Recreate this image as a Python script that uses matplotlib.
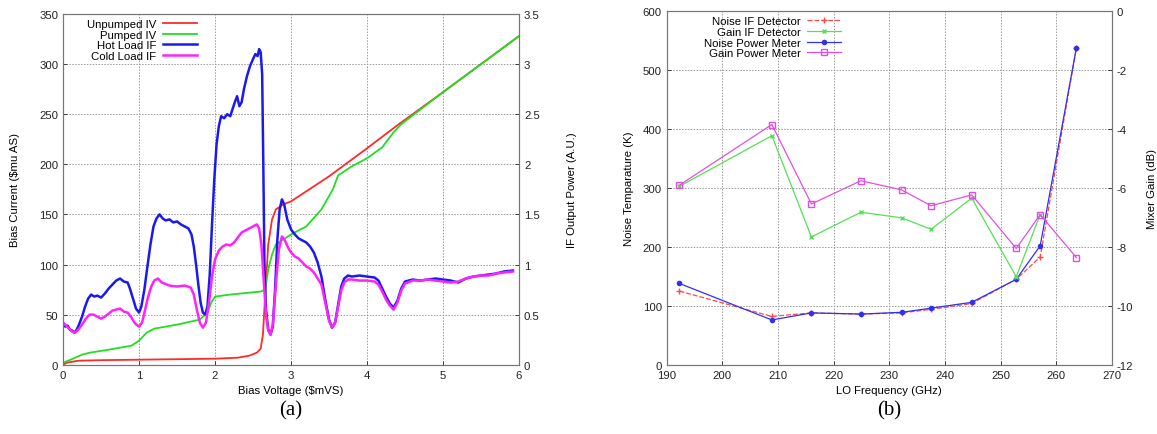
import matplotlib
matplotlib.use("Agg")
import matplotlib.pyplot as plt

plt.rcParams['font.family'] = ['Liberation Sans', 'DejaVu Sans']
plt.rcParams['axes.unicode_minus'] = False

# ---------------- Panel (a) data ----------------
iv_v = [0.00, 0.05, 0.20, 0.50, 1.00, 1.50, 2.00, 2.30, 2.45, 2.55, 2.60, 2.63, 2.66,
        2.70, 2.75, 2.80, 2.90, 3.00, 3.50, 4.00, 4.40, 5.00, 5.50, 6.00]
unpumped_i = [0, 2, 4, 4.5, 5, 5.5, 6, 7, 9, 12, 16, 30, 70,
              120, 145, 155, 160, 163, 188, 216, 239, 272, 300, 328]

pumped_v = [0.00, 0.10, 0.25, 0.35, 0.60, 0.90, 1.00, 1.10, 1.20, 1.50, 1.80, 1.90, 1.95,
            2.00, 2.20, 2.60, 2.66, 2.70, 2.75, 2.80, 3.00, 3.20, 3.40, 3.55, 3.62,
            3.80, 4.00, 4.20, 4.35, 4.45, 5.00, 5.50, 6.00]
pumped_i = [2, 5, 10, 12, 15, 19, 24, 32, 36, 40, 45, 52, 62,
            68, 70, 73, 75, 95, 110, 120, 130, 138, 155, 175, 189,
            198, 206, 217, 232, 240, 272, 300, 328]

hot_v = [0.00, 0.03, 0.06, 0.09, 0.12, 0.15, 0.18, 0.21, 0.25, 0.29, 0.33, 0.37, 0.41, 0.45,
         0.50, 0.55, 0.60, 0.65, 0.70, 0.75, 0.80, 0.85, 0.88, 0.92, 0.96, 1.00, 1.03, 1.07,
         1.11, 1.15, 1.19, 1.23, 1.27, 1.31, 1.35, 1.40, 1.45, 1.50, 1.55, 1.60, 1.65, 1.69,
         1.72, 1.75, 1.78, 1.81, 1.84, 1.87, 1.90, 1.93, 1.96, 1.99, 2.02, 2.05, 2.08, 2.12,
         2.16, 2.20, 2.23, 2.26, 2.29, 2.32, 2.35, 2.38, 2.42, 2.46, 2.50, 2.53, 2.56, 2.58,
         2.60, 2.62, 2.635, 2.65, 2.67, 2.70, 2.73, 2.76, 2.79, 2.82, 2.85, 2.88, 2.91, 2.95,
         3.00, 3.05, 3.10, 3.15, 3.20, 3.25, 3.30, 3.35, 3.40, 3.45, 3.50, 3.54, 3.58, 3.62,
         3.66, 3.70, 3.75, 3.80, 3.90, 4.00, 4.10, 4.15, 4.20, 4.25, 4.30, 4.35, 4.40, 4.45,
         4.50, 4.60, 4.70, 4.80, 4.90, 5.00, 5.10, 5.20, 5.30, 5.40, 5.50, 5.60, 5.70, 5.80,
         5.92]
hot_if = [0.41, 0.38, 0.39, 0.35, 0.34, 0.32, 0.35, 0.40, 0.48, 0.58, 0.66, 0.70, 0.68, 0.69,
          0.67, 0.71, 0.76, 0.80, 0.84, 0.86, 0.83, 0.82, 0.76, 0.66, 0.56, 0.52, 0.58, 0.75,
          0.98, 1.20, 1.38, 1.46, 1.50, 1.46, 1.44, 1.45, 1.42, 1.43, 1.40, 1.38, 1.36, 1.30,
          1.18, 1.00, 0.80, 0.62, 0.52, 0.50, 0.58, 0.90, 1.40, 1.85, 2.20, 2.38, 2.48, 2.46,
          2.50, 2.48, 2.55, 2.62, 2.68, 2.58, 2.62, 2.75, 2.88, 2.98, 3.05, 3.10, 3.08, 3.15,
          3.12, 2.90, 2.00, 1.00, 0.55, 0.35, 0.30, 0.38, 0.75, 1.25, 1.55, 1.65, 1.60, 1.45,
          1.35, 1.30, 1.26, 1.24, 1.22, 1.18, 1.12, 1.02, 0.88, 0.65, 0.45, 0.37, 0.42, 0.60,
          0.78, 0.86, 0.89, 0.88, 0.89, 0.88, 0.87, 0.84, 0.76, 0.68, 0.61, 0.57, 0.64, 0.76,
          0.83, 0.85, 0.84, 0.85, 0.86, 0.85, 0.84, 0.82, 0.86, 0.88, 0.89, 0.90, 0.91, 0.93,
          0.94]

cold_v = [0.00, 0.04, 0.08, 0.12, 0.16, 0.20, 0.25, 0.30, 0.35, 0.40, 0.45, 0.50, 0.55, 0.60,
          0.65, 0.70, 0.75, 0.80, 0.85, 0.90, 0.95, 1.00, 1.04, 1.08, 1.12, 1.16, 1.20, 1.25,
          1.30, 1.40, 1.50, 1.60, 1.68, 1.72, 1.76, 1.80, 1.84, 1.88, 1.92, 1.96, 2.00, 2.05,
          2.10, 2.15, 2.20, 2.25, 2.30, 2.35, 2.40, 2.45, 2.50, 2.55, 2.58, 2.61, 2.64, 2.67,
          2.70, 2.73, 2.76, 2.80, 2.84, 2.88, 2.92, 2.96, 3.00, 3.05, 3.10, 3.15, 3.20, 3.25,
          3.30, 3.35, 3.40, 3.45, 3.50, 3.54, 3.58, 3.62, 3.66, 3.70, 3.75, 3.80, 3.90, 4.00,
          4.10, 4.15, 4.20, 4.25, 4.30, 4.35, 4.40, 4.45, 4.50, 4.60, 4.70, 4.80, 4.90, 5.00,
          5.10, 5.20, 5.30, 5.40, 5.50, 5.60, 5.70, 5.80, 5.92]
cold_if = [0.42, 0.39, 0.36, 0.33, 0.32, 0.35, 0.40, 0.46, 0.50, 0.50, 0.48, 0.46, 0.48, 0.51,
           0.54, 0.55, 0.56, 0.53, 0.52, 0.47, 0.41, 0.38, 0.42, 0.55, 0.68, 0.78, 0.84, 0.86,
           0.82, 0.79, 0.78, 0.79, 0.77, 0.70, 0.55, 0.42, 0.37, 0.42, 0.62, 0.88, 1.05, 1.14,
           1.18, 1.20, 1.19, 1.22, 1.27, 1.32, 1.34, 1.36, 1.38, 1.40, 1.36, 1.20, 0.85, 0.50,
           0.34, 0.30, 0.40, 0.80, 1.15, 1.28, 1.24, 1.17, 1.12, 1.08, 1.06, 1.02, 0.98, 0.96,
           0.92, 0.86, 0.80, 0.62, 0.44, 0.37, 0.42, 0.58, 0.74, 0.82, 0.85, 0.85, 0.84, 0.84,
           0.83, 0.80, 0.73, 0.65, 0.59, 0.55, 0.62, 0.74, 0.81, 0.84, 0.84, 0.85, 0.84, 0.83,
           0.82, 0.83, 0.86, 0.88, 0.89, 0.89, 0.91, 0.92, 0.93]

# ---------------- Panel (b) data ----------------
freq = [192.3, 208.9, 216.0, 224.9, 232.2, 237.5, 244.8, 252.8, 257.1, 263.6]
noise_if_det = [125, 82, 88, 86, 88, 94, 104, 145, 183, 538]
noise_pm = [138, 76, 88, 86, 89, 96, 106, 145, 202, 538]
gain_if_freq = [192.3, 208.9, 216.0, 224.9, 232.2, 237.5, 244.8, 252.8, 257.1]
gain_if_det = [-5.94, -4.22, -7.66, -6.82, -7.01, -7.40, -6.34, -9.01, -6.90]
gain_pm = [-5.90, -3.84, -6.54, -5.75, -6.06, -6.60, -6.23, -8.05, -6.90, -8.36]

# ---------------- Figure ----------------
fig = plt.figure(figsize=(11.57, 4.35), dpi=100)
fs = 8.2
grid_kw = dict(color='#999999', linestyle=(0, (1.5, 1.5)), linewidth=0.7)

def style(ax):
    for s in ax.spines.values():
        s.set_color('#777777')
        s.set_linewidth(0.8)
    ax.tick_params(direction='in', labelsize=fs, colors='#222222', length=3, width=0.6)

# Panel (a)
axa = fig.add_axes([0.0545, 0.1593, 0.3941, 0.8062])
axa2 = axa.twinx()
la1, = axa.plot(iv_v, unpumped_i, color='#ff2a2a', lw=1.3, label='Unpumped IV')
la2, = axa.plot(pumped_v, pumped_i, color='#22dd22', lw=1.3, label='Pumped IV')
la3, = axa2.plot(hot_v, hot_if, color='#1a1aee', lw=1.8, label='Hot Load IF')
la4, = axa2.plot(cold_v, cold_if, color='#ff22ff', lw=1.8, label='Cold Load IF')
axa.set_xlim(0, 6)
axa.set_ylim(0, 350)
axa2.set_ylim(0, 3.5)
axa.set_xticks(range(0, 7))
axa.set_yticks(range(0, 351, 50))
axa2.set_yticks([0, 0.5, 1, 1.5, 2, 2.5, 3, 3.5])
axa2.set_yticklabels(['0', '0.5', '1', '1.5', '2', '2.5', '3', '3.5'])
axa.grid(True, **grid_kw)
style(axa); style(axa2)
axa.set_xlabel('Bias Voltage ($mVS)', fontsize=fs, labelpad=4)
axa.set_ylabel('Bias Current ($mu AS)', fontsize=fs, labelpad=14)
axa2.set_ylabel('IF Output Power (A.U.)', fontsize=fs, labelpad=20)
axa2.legend(handles=[la1, la2, la3, la4], loc='upper left', bbox_to_anchor=(0.03, 1.015),
            markerfirst=False, frameon=False, fontsize=fs, handlelength=3.0,
            labelspacing=0.05, handletextpad=0.6)
fig.text(0.2515, 0.045, '(a)', fontsize=15, family='Liberation Serif', ha='center')

# Panel (b)
axb = fig.add_axes([0.5762, 0.1593, 0.3849, 0.812])
axb2 = axb.twinx()
lb1, = axb.plot(freq, noise_if_det, color='#ff4a4a', lw=0.9, ls=(0, (4, 1.5)),
                marker='+', ms=5, label='Noise IF Detector')
lb2, = axb2.plot(gain_if_freq, gain_if_det, color='#55e055', lw=0.9,
                 marker='x', ms=3, label='Gain IF Detector')
lb3, = axb.plot(freq, noise_pm, color='#3030ee', lw=0.9,
                marker='o', ms=3, label='Noise Power Meter')
lb4, = axb2.plot(freq, gain_pm, color='#e050e0', lw=0.9, marker='s', ms=5,
                 mfc='none', label='Gain Power Meter')
axb.set_xlim(190, 270)
axb.set_ylim(0, 600)
axb2.set_ylim(-12, 0)
axb.set_xticks(range(190, 271, 10))
axb.set_yticks(range(0, 601, 100))
axb2.set_yticks(range(-12, 1, 2))
axb.grid(True, **grid_kw)
style(axb); style(axb2)
axb.set_xlabel('LO Frequency (GHz)', fontsize=fs, labelpad=4)
axb.set_ylabel('Noise Temparature (K)', fontsize=fs, labelpad=6)
axb2.set_ylabel('Mixer Gain (dB)', fontsize=fs, labelpad=10)
axb2.legend(handles=[lb1, lb2, lb3, lb4], loc='upper left', bbox_to_anchor=(0.06, 1.015),
            markerfirst=False, frameon=False, fontsize=fs, handlelength=3.0,
            labelspacing=0.05, handletextpad=0.6)
fig.text(0.7687, 0.045, '(b)', fontsize=15, family='Liberation Serif', ha='center')

fig.savefig('out.png', dpi=100)
